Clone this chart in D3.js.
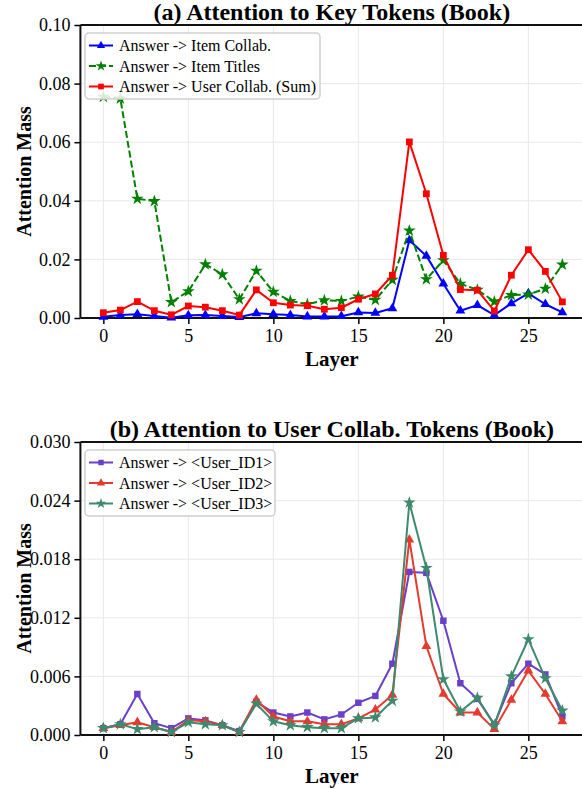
<!DOCTYPE html>
<html>
<head>
<meta charset="utf-8">
<script src="https://cdn.jsdelivr.net/npm/d3@7"></script>
<style>
  html, body { margin: 0; padding: 0; background: #fff; }
  svg { display: block; }
  text { font-family: "Liberation Serif", "DejaVu Serif", serif; }
</style>
</head>
<body>
<svg id="chart" width="582" height="789"></svg>
<script>
// ---------- data ----------
const layers = d3.range(0, 28);
const xTicks = [0, 5, 10, 15, 20, 25];

// Panel (a)
const titleA = "(a) Attention to Key Tokens (Book)";
const yTicksA = [0.00, 0.02, 0.04, 0.06, 0.08, 0.10];
const itemCollab = [0.0004,0.0010,0.0013,0.0007,0.0001,0.0009,0.0010,0.0007,0.0003,0.0016,0.0013,0.0010,0.0005,0.0005,0.0006,0.0019,0.0017,0.0033,0.0265,0.0212,0.0117,0.0025,0.0044,0.0010,0.0050,0.0084,0.0047,0.0019];
const itemTitles = [0.0755,0.0749,0.0407,0.0399,0.0054,0.0091,0.0183,0.0149,0.0064,0.0161,0.0089,0.0058,0.0047,0.0060,0.0058,0.0073,0.0062,0.0130,0.0298,0.0132,0.0197,0.0117,0.0096,0.0056,0.0078,0.0080,0.0100,0.0182];
const userCollabSum = [0.0018,0.0027,0.0056,0.0025,0.0011,0.0041,0.0037,0.0025,0.0010,0.0096,0.0052,0.0044,0.0042,0.0030,0.0035,0.0064,0.0082,0.0146,0.0601,0.0424,0.0214,0.0097,0.0095,0.0024,0.0146,0.0233,0.0159,0.0055];
const seriesNamesA = ["Answer -> Item Collab.", "Answer -> Item Titles", "Answer -> User Collab. (Sum)"];

// Panel (b)
const titleB = "(b) Attention to User Collab. Tokens (Book)";
const yTicksB = [0.000, 0.006, 0.012, 0.018, 0.024, 0.030];
const userID1 = [0.0007,0.0011,0.0042,0.0012,0.0007,0.0017,0.0015,0.0010,0.0004,0.0034,0.0023,0.0019,0.0023,0.0016,0.0021,0.0033,0.0040,0.0073,0.0167,0.0166,0.0117,0.0053,0.0037,0.0011,0.0053,0.0073,0.0062,0.0019];
const userID2 = [0.0007,0.0010,0.0013,0.0008,0.0003,0.0015,0.0014,0.0010,0.0003,0.0036,0.0019,0.0014,0.0014,0.0011,0.0011,0.0017,0.0026,0.0041,0.0200,0.0091,0.0042,0.0023,0.0023,0.0006,0.0036,0.0066,0.0042,0.0014];
const userID3 = [0.0007,0.0011,0.0006,0.0008,0.0003,0.0013,0.0011,0.0010,0.0003,0.0032,0.0014,0.0010,0.0008,0.0007,0.0007,0.0017,0.0018,0.0035,0.0238,0.0171,0.0057,0.0024,0.0038,0.0010,0.0060,0.0098,0.0058,0.0025];
const seriesNamesB = ["Answer -> <User_ID1>", "Answer -> <User_ID2>", "Answer -> <User_ID3>"];

const xLabel = "Layer";
const yLabel = "Attention Mass";

// ---------- drawing ----------
const svg = d3.select("#chart");
const left = 80.4, right = 585.3;
const x = d3.scaleLinear().domain([-1.35, 28.35]).range([left, right]);

function panel(cfg) {
  const y = d3.scaleLinear().domain([cfg.yTicks[0], cfg.yTicks[cfg.yTicks.length - 1]]).range([cfg.bottom, cfg.top]);
  const g = svg.append("g");

  // grid
  g.append("g").selectAll("line").data(xTicks).join("line")
    .attr("x1", d => x(d)).attr("x2", d => x(d))
    .attr("y1", cfg.top).attr("y2", cfg.bottom)
    .attr("stroke", "#e8e8e8").attr("stroke-width", 1);
  g.append("g").selectAll("line").data(cfg.yTicks).join("line")
    .attr("x1", left).attr("x2", right)
    .attr("y1", d => y(d)).attr("y2", d => y(d))
    .attr("stroke", "#e8e8e8").attr("stroke-width", 1);

  // axes
  const xAxis = d3.axisBottom(x).tickValues(xTicks).tickSize(6).tickPadding(5).tickFormat(d3.format("d"));
  const gx = g.append("g").attr("transform", `translate(0,${cfg.bottom})`).call(xAxis);
  const yAxis = d3.axisLeft(y).tickValues(cfg.yTicks).tickSize(6).tickPadding(4).tickFormat(d3.format(cfg.fmt));
  const gy = g.append("g").attr("transform", `translate(${left},0)`).call(yAxis);
  [gx, gy].forEach(a => {
    a.select(".domain").remove();
    a.selectAll(".tick line").attr("stroke", "#000").attr("stroke-width", 1.5);
    a.selectAll(".tick text").attr("fill", "#000").style("font-size", "18px")
      .style("font-family", "'Liberation Serif', serif");
  });

  // spines
  g.append("line").attr("x1", left).attr("x2", right).attr("y1", cfg.bottom).attr("y2", cfg.bottom).attr("stroke", "#111").attr("stroke-width", 2);
  g.append("line").attr("x1", left).attr("x2", right).attr("y1", cfg.top).attr("y2", cfg.top).attr("stroke", "#111").attr("stroke-width", 2);
  g.append("line").attr("x1", left).attr("x2", left).attr("y1", cfg.top).attr("y2", cfg.bottom).attr("stroke", "#111").attr("stroke-width", 2);

  // series
  cfg.series.forEach(s => {
    const line = d3.line().x((d, i) => x(layers[i])).y(d => y(d));
    g.append("path").datum(s.values)
      .attr("fill", "none").attr("stroke", s.color).attr("stroke-width", 2)
      .attr("stroke-dasharray", s.dash || null)
      .attr("stroke-linejoin", "round")
      .attr("d", line);
    const sym = d3.symbol().type(s.symbol).size(s.size);
    g.append("g").selectAll("path").data(s.values).join("path")
      .attr("transform", (d, i) => `translate(${x(layers[i])},${y(d)})`)
      .attr("d", sym).attr("fill", s.color);
  });

  // title
  g.append("text").attr("x", (left + right) / 2 - 1).attr("y", cfg.top - 5)
    .attr("text-anchor", "middle").style("font-size", "24px").style("font-weight", "bold")
    .text(cfg.title);
  // labels
  g.append("text").attr("x", (left + right) / 2 - 1).attr("y", cfg.bottom + 48)
    .attr("text-anchor", "middle").style("font-size", "21px").style("font-weight", "bold")
    .text(xLabel);
  g.append("text").attr("transform", `translate(31,${(cfg.top + cfg.bottom) / 2}) rotate(-90)`)
    .attr("text-anchor", "middle").style("font-size", "20px").style("font-weight", "bold")
    .text(yLabel);

  // legend
  const lg = g.append("g").attr("transform", `translate(85,${cfg.top + 8})`);
  lg.append("rect").attr("x", 0).attr("y", 0).attr("width", cfg.legendW).attr("height", 66)
    .attr("rx", 4).attr("fill", "#fff").attr("fill-opacity", 0.85)
    .attr("stroke", "#cfcfcf").attr("stroke-width", 1.5);
  cfg.series.forEach((s, i) => {
    const cy = 12.5 + i * 20.5;
    lg.append("line").attr("x1", 4).attr("x2", 28).attr("y1", cy).attr("y2", cy)
      .attr("stroke", s.color).attr("stroke-width", 2).attr("stroke-dasharray", s.dash || null);
    lg.append("path").attr("transform", `translate(16,${cy})`)
      .attr("d", d3.symbol().type(s.symbol).size(s.size * 0.7)).attr("fill", s.color);
    lg.append("text").attr("x", 34).attr("y", cy + 5.5).style("font-size", "16px").text(s.name);
  });
}

panel({
  top: 25, bottom: 318, yTicks: yTicksA, fmt: ".2f", title: titleA, legendW: 235,
  series: [
    { name: seriesNamesA[0], values: itemCollab, color: "#0000ff", symbol: d3.symbolTriangle, size: 42 },
    { name: seriesNamesA[1], values: itemTitles, color: "#008000", symbol: d3.symbolStar, size: 50, dash: "7,3" },
    { name: seriesNamesA[2], values: userCollabSum, color: "#ff0000", symbol: d3.symbolSquare, size: 46 }
  ]
});

panel({
  top: 442, bottom: 735, yTicks: yTicksB, fmt: ".3f", title: titleB, legendW: 190,
  series: [
    { name: seriesNamesB[0], values: userID1, color: "#6a40c8", symbol: d3.symbolSquare, size: 42 },
    { name: seriesNamesB[1], values: userID2, color: "#e53b2f", symbol: d3.symbolTriangle, size: 42 },
    { name: seriesNamesB[2], values: userID3, color: "#3e8a6e", symbol: d3.symbolStar, size: 50 }
  ]
});
</script>
</body>
</html>
